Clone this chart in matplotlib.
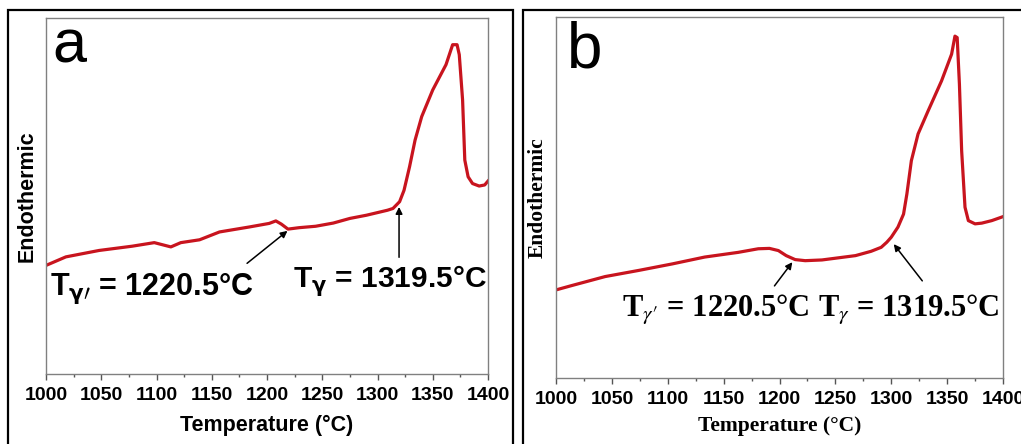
"""
DSC heating curves for two alloys (panels a and b).
"""

import matplotlib
matplotlib.use("Agg")
import matplotlib.pyplot as plt
from matplotlib.patches import Rectangle

# ---- data (y in arbitrary units, 0..1) ----
temp_a = [1000, 1018, 1048, 1078, 1098, 1113, 1122, 1139, 1157, 1184, 1202,
          1208, 1213, 1219, 1229, 1244, 1260, 1275, 1290, 1309, 1314, 1320,
          1324, 1329, 1334, 1340, 1350, 1362, 1368, 1372, 1374, 1377, 1379,
          1382, 1386, 1392, 1397, 1400]
heat_a = [0.305, 0.329, 0.347, 0.359, 0.369, 0.357, 0.369, 0.377, 0.399,
          0.413, 0.423, 0.430, 0.421, 0.407, 0.411, 0.415, 0.424, 0.437,
          0.446, 0.460, 0.465, 0.484, 0.516, 0.582, 0.657, 0.723, 0.798,
          0.869, 0.925, 0.925, 0.897, 0.770, 0.601, 0.554, 0.535, 0.528,
          0.531, 0.542]

temp_b = [1000, 1014, 1044, 1074, 1104, 1133, 1163, 1181, 1191, 1199, 1206,
          1214, 1223, 1238, 1253, 1268, 1282, 1291, 1296, 1300, 1306, 1311,
          1314, 1318, 1324, 1333, 1345, 1354, 1357, 1359, 1361, 1363, 1366,
          1369, 1375, 1381, 1390, 1400]
heat_b = [0.244, 0.256, 0.281, 0.298, 0.316, 0.335, 0.348, 0.358, 0.359,
          0.353, 0.339, 0.328, 0.325, 0.327, 0.333, 0.339, 0.351, 0.362,
          0.376, 0.390, 0.418, 0.454, 0.510, 0.602, 0.676, 0.740, 0.823,
          0.897, 0.947, 0.943, 0.814, 0.629, 0.473, 0.436, 0.427, 0.429,
          0.436, 0.447]

t_gamma_prime = 1220.5
t_gamma = 1319.5
ticks = [1000, 1050, 1100, 1150, 1200, 1250, 1300, 1350, 1400]

RED = "#c8141e"
W, H = 1021, 444

fig = plt.figure(figsize=(W / 100, H / 100), dpi=100)
fig.patch.set_facecolor("white")

# outer panel frames (bottom edges run off the picture)
for x0, x1 in [(8, 513), (523, 1030)]:
    fig.add_artist(Rectangle((x0 / W, -0.1), (x1 - x0) / W, 1.1 - 10 / H,
                             transform=fig.transFigure, fill=False,
                             edgecolor="black", linewidth=1.6, clip_on=False))


def style_axes(ax):
    ax.set_xlim(1000, 1400)
    ax.set_ylim(0, 1)
    ax.set_yticks([])
    ax.set_xticks(ticks)
    ax.set_xticks(range(1025, 1400, 50), minor=True)
    for sp in ax.spines.values():
        sp.set_color("#808080")
        sp.set_linewidth(1.0)
    ax.tick_params(axis="x", which="major", direction="out", length=4,
                   width=1, color="#555555", pad=5)
    ax.tick_params(axis="x", which="minor", direction="out", length=2.5,
                   width=1, color="#555555")
    ax.tick_params(axis="x", which="both", top=False)
    # tick labels are sans bold in both panels
    for lab in ax.get_xticklabels():
        lab.set_family("Liberation Sans")
        lab.set_weight("bold")
        lab.set_fontsize(14)


arrow = dict(arrowstyle="-|>", color="black", lw=1.1, mutation_scale=10)

# ---------------- panel a ----------------
ax1 = fig.add_axes([46 / W, (H - 374) / H, 442 / W, 356 / H])
ax1.plot(temp_a, heat_a, color=RED, linewidth=2.3, solid_joinstyle="round")
style_axes(ax1)
sans = dict(family="Liberation Sans", weight="bold")
ax1.set_xlabel("Temperature (\u00b0C)", fontsize=15.5, labelpad=8, **sans)
ax1.set_ylabel("Endothermic", fontsize=15.5, labelpad=6, **sans)
ax1.text(1006, 0.874, "a", fontsize=44, family="Liberation Sans")
ax1.annotate("", xy=(t_gamma_prime, 0.407), xytext=(1180, 0.306),
             arrowprops=arrow)
ax1.annotate("", xy=(t_gamma, 0.477), xytext=(t_gamma, 0.320),
             arrowprops=arrow)
ax1.text(1003.6, 0.222,
         r"T$_{\mathbf{\gamma\prime}}$ = " + f"{t_gamma_prime}\u00b0C",
         fontsize=22, math_fontfamily="dejavusans", **sans)
ax1.text(1223.5, 0.244,
         r"T$_{\mathbf{\gamma}}$ = " + f"{t_gamma}\u00b0C",
         fontsize=21.5, math_fontfamily="dejavusans", **sans)

# ---------------- panel b ----------------
ax2 = fig.add_axes([556 / W, (H - 378) / H, 447 / W, 361 / H])
ax2.plot(temp_b, heat_b, color=RED, linewidth=2.3, solid_joinstyle="round")
style_axes(ax2)
serif = dict(family="Liberation Serif", weight="bold")
ax2.set_xlabel("Temperature (\u00b0C)", fontsize=15.5, labelpad=6, **serif)
ax2.set_ylabel("Endothermic", fontsize=15.5, labelpad=6, **serif)
ax2.text(1009.8, 0.861, "b", fontsize=46, family="Liberation Sans")
ax2.annotate("", xy=(1213, 0.327), xytext=(1194, 0.249), arrowprops=arrow)
ax2.annotate("", xy=(1300.7, 0.377), xytext=(1329.3, 0.263),
             arrowprops=arrow)
ax2.text(1059, 0.169,
         r"T$_{\gamma\prime}$ = " + f"{t_gamma_prime}\u00b0C",
         fontsize=22, math_fontfamily="stix", **serif)
ax2.text(1234.5, 0.169,
         r"T$_{\gamma}$ = " + f"{t_gamma}\u00b0C",
         fontsize=22, math_fontfamily="stix", **serif)

fig.savefig("out.png", dpi=100)
